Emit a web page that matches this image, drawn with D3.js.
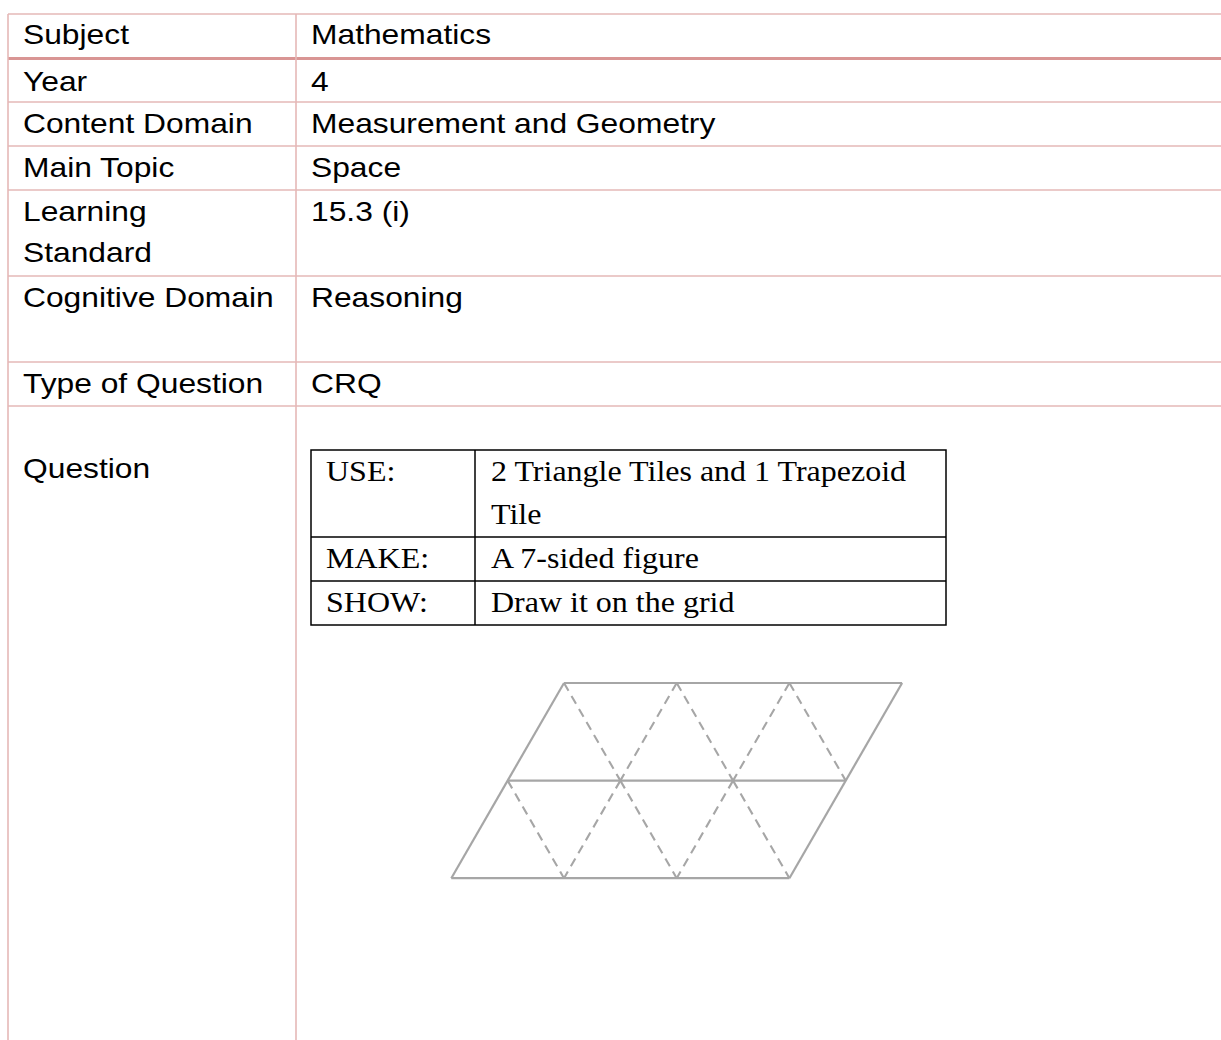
<!DOCTYPE html>
<meta charset="utf-8">
<script src="https://d3js.org/d3.v7.min.js"></script>
<style>
  body { margin: 0; background: #fff; }
</style>
<div id="sheet"></div>

<script>
  // table content
  var labels = ["Subject", "Year", "Content Domain", "Main Topic", "Learning|Standard", "Cognitive Domain", "Type of Question", "|Question"];
  var answers = ["Mathematics", "4", "Measurement and Geometry", "Space", "15.3 (i)", "Reasoning", "CRQ", ""];

  // inner task box
  var taskKeys = ["USE:", "MAKE:", "SHOW:"];
  var taskText = ["2 Triangle Tiles and 1 Trapezoid|Tile", "A 7-sided figure", "Draw it on the grid"];

  // triangle grid: 3 triangles wide, 2 rows, in lattice units
  var gridCols = 3, gridRows = 2;

  // layout
  var width = 1221, height = 1040;
  var rowLines = [1, 1, 1, 1, 2, 2, 1, 16];
  var rowLineH = 42, tableTop = 14, leftX = 8, divX = 296;
  var thin = "#e5b8b7", thick = "#d99594";

  var svg = d3.select("#sheet").append("svg")
    .attr("width", width).attr("height", height);

  // row tops from line counts
  var rowTops = [tableTop];
  rowLines.forEach(function (n, i) { rowTops.push(rowTops[i] + n * rowLineH + 2); });

  // horizontal rules
  svg.selectAll("line.rule")
    .data(rowTops.slice(0, rowLines.length))
    .enter().append("line")
    .attr("class", "rule")
    .attr("x1", leftX).attr("x2", width)
    .attr("y1", function (d, i) { return i === 1 ? d + 0.5 : d; })
    .attr("y2", function (d, i) { return i === 1 ? d + 0.5 : d; })
    .attr("stroke", function (d, i) { return i === 1 ? thick : thin; })
    .attr("stroke-width", function (d, i) { return i === 1 ? 3 : 1.6; });

  // vertical rules
  svg.selectAll("line.col")
    .data([leftX, divX])
    .enter().append("line")
    .attr("class", "col")
    .attr("x1", function (d) { return d; }).attr("x2", function (d) { return d; })
    .attr("y1", tableTop).attr("y2", height)
    .attr("stroke", thin).attr("stroke-width", 1.6);

  // the scanned text is a little wider than it is tall, hence the x scale
  function addText(g, str, x, y, family, size, sx, lh) {
    var t = g.append("text")
      .attr("transform", "translate(" + x + "," + y + ") scale(" + sx + ",1)")
      .style("font-family", family)
      .style("font-size", size + "px")
      .attr("fill", "#000");
    str.split("|").forEach(function (s, k) {
      t.append("tspan").attr("x", 0).attr("y", k * lh).text(s);
    });
  }

  var sans = "'Liberation Sans', Arial, sans-serif";
  var serif = "'Liberation Serif', 'Times New Roman', serif";

  var cells = svg.append("g");
  labels.forEach(function (lab, i) {
    var base = rowTops[i] + (i === 0 ? 30 : i === 1 ? 33 : 31);
    addText(cells, lab, 23, base, sans, 28, 1.135, 41);
    if (answers[i]) addText(cells, answers[i], 311, base, sans, 28, 1.135, 41);
  });

  // inner task table
  var boxX = 311, boxMid = 475, boxR = 946, boxTop = 450;
  var taskLines = taskText.map(function (s) { return s.split("|").length; });
  var taskTops = [boxTop];
  taskLines.forEach(function (n, i) { taskTops.push(taskTops[i] + n * 43 + 1); });
  var boxBottom = taskTops[taskTops.length - 1];

  var box = svg.append("g");
  box.append("rect")
    .attr("x", boxX).attr("y", boxTop)
    .attr("width", boxR - boxX).attr("height", boxBottom - boxTop)
    .attr("fill", "none").attr("stroke", "#000").attr("stroke-width", 1.5);
  box.append("line")
    .attr("x1", boxMid).attr("x2", boxMid)
    .attr("y1", boxTop).attr("y2", boxBottom)
    .attr("stroke", "#000").attr("stroke-width", 1.5);
  box.selectAll("line.trow")
    .data(taskTops.slice(1, taskTops.length - 1))
    .enter().append("line")
    .attr("class", "trow")
    .attr("x1", boxX).attr("x2", boxR)
    .attr("y1", function (d) { return d; }).attr("y2", function (d) { return d; })
    .attr("stroke", "#000").attr("stroke-width", 1.5);
  taskKeys.forEach(function (k, i) {
    var base = taskTops[i] + 31;
    addText(box, k, 326, base, serif, 29.5, 1.085, 43);
    addText(box, taskText[i], 491, base, serif, 29.5, 1.085, 43);
  });

  // triangle grid
  var unit = 112.7;
  var x = d3.scaleLinear().domain([0, 1]).range([564, 564 + unit]);
  var y = d3.scaleLinear().domain([0, 1]).range([683, 683 + unit * Math.sqrt(3) / 2]);
  function pt(i, j) { return [x(i - j / 2), y(j)]; }

  var solid = [], dashed = [];
  for (var j = 0; j <= gridRows; j++) solid.push([pt(0, j), pt(gridCols, j)]);
  solid.push([pt(0, 0), pt(0, gridRows)]);
  solid.push([pt(gridCols, 0), pt(gridCols, gridRows)]);
  for (var r = 0; r < gridRows; r++) {
    for (var i = 0; i < gridCols; i++) dashed.push([pt(i, r), pt(i + 1, r + 1)]);
    for (var i2 = 1; i2 < gridCols; i2++) dashed.push([pt(i2, r), pt(i2, r + 1)]);
  }

  var line = d3.line();
  var grid = svg.append("g").attr("fill", "none").attr("stroke", "#a6a6a6");
  grid.selectAll("path.dash")
    .data(dashed)
    .enter().append("path")
    .attr("class", "dash")
    .attr("d", line)
    .attr("stroke-width", 2.1)
    .attr("stroke-dasharray", "9,6");
  grid.selectAll("path.solid")
    .data(solid)
    .enter().append("path")
    .attr("class", "solid")
    .attr("d", line)
    .attr("stroke-width", 2.2);
</script>
